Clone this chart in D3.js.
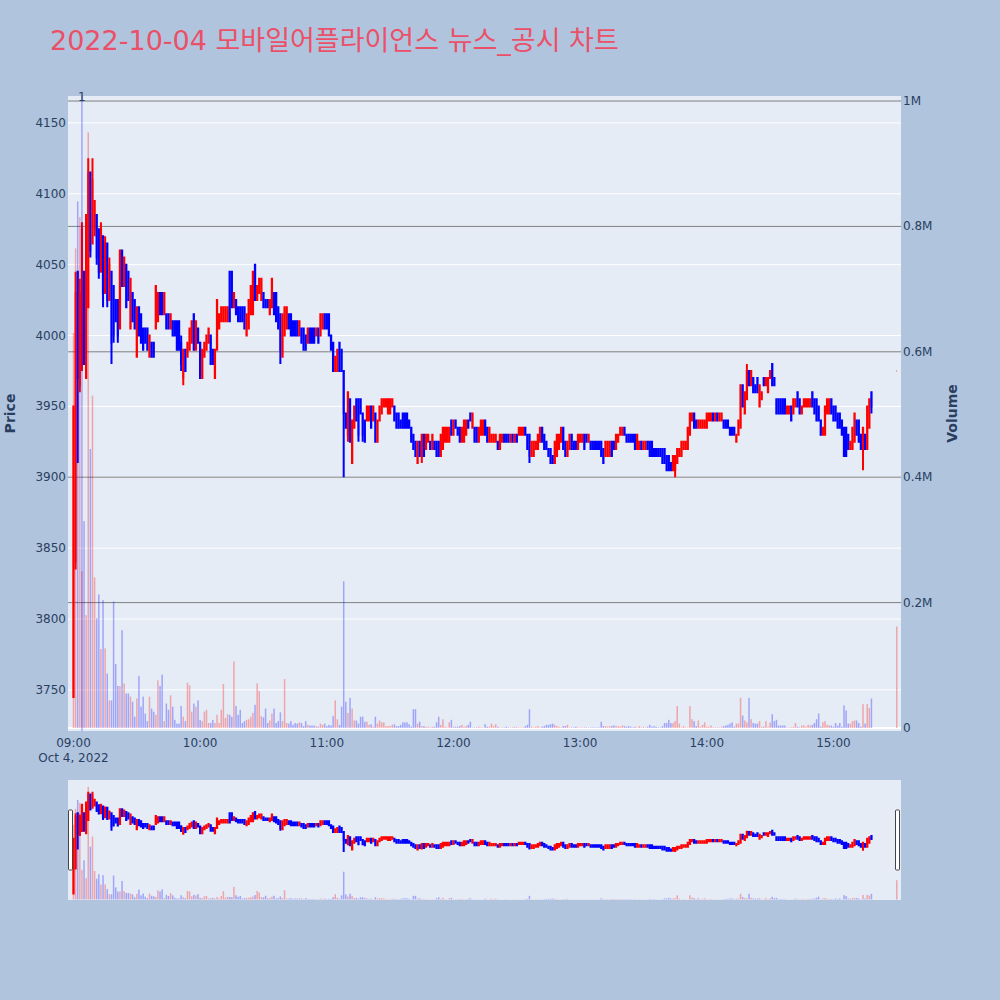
<!DOCTYPE html>
<html>
<head>
<meta charset="utf-8">
<script src="https://cdn.jsdelivr.net/npm/d3@7"></script>
<style>
  body { margin: 0; background: #B0C4DE; }
  svg { display: block; }
  text { font-family: "DejaVu Sans", Verdana, "Noto Sans CJK KR", sans-serif; }
</style>
</head>
<body>
<svg id="chart" width="1000" height="1000"></svg>
<script>
// 1-minute candles from 09:00, index = minutes after the open
const opens = [
  3745,3840,4045,3965,3980,4045,3970,4020,4115,4065, 4075,4085,4075,4045,4070,4030,4065,4025,4045,4035,
  4025,4025,4005,4060,4035,4050,4045,4005,4030,4025, 3985,4020,4015,4005,4005,4005,3985,3995,3995,4005,
  4010,4030,4030,4015,4015,4015,4005,4010,4010,4010, 4010,3995,3970,3990,3985,3990,3995,4015,3990,4005,
  3995,3970,3985,3990,3995,4000,3990,3970,3990,4005, 4010,4010,4010,4010,4045,4045,4020,4025,4020,4020,
  4020,4020,4000,4005,4015,4015,4050,4025,4030,4025, 4030,4025,4025,4015,4020,4030,4030,4020,4015,3985,
  4000,4005,4015,4015,4010,4010,4010,4000,4005,4005, 4000,3995,4005,4005,4005,4000,4005,4000,4005,4015,
  4015,4015,4000,3995,3975,3975,3995,3990,3975,3945, 3930,3955,3910,3935,3955,3955,3955,3945,3940,3940,
  3940,3950,3940,3945,3925,3940,3945,3950,3950,3945, 3945,3950,3950,3945,3945,3940,3945,3945,3945,3940,
  3935,3930,3925,3910,3925,3915,3930,3920,3925,3925, 3920,3925,3925,3925,3915,3920,3925,3925,3925,3940,
  3930,3940,3935,3935,3925,3925,3930,3940,3945,3935, 3935,3935,3925,3930,3930,3940,3935,3925,3925,3925,
  3925,3925,3920,3925,3930,3930,3930,3925,3930,3925, 3930,3930,3930,3930,3935,3930,3930,3915,3915,3920,
  3920,3925,3935,3930,3925,3920,3920,3915,3910,3915, 3920,3925,3935,3925,3915,3920,3930,3925,3925,3920,
  3925,3925,3930,3930,3925,3925,3925,3925,3925,3925, 3925,3920,3915,3915,3915,3925,3925,3920,3925,3930,
  3930,3935,3930,3930,3930,3930,3930,3920,3920,3925, 3920,3920,3925,3925,3925,3920,3920,3920,3920,3920,
  3920,3915,3915,3910,3905,3905,3910,3915,3915,3920, 3920,3920,3930,3940,3945,3940,3935,3935,3935,3935,
  3935,3940,3940,3945,3940,3945,3940,3940,3940,3940, 3940,3935,3935,3935,3925,3930,3935,3965,3945,3955,
  3975,3965,3970,3965,3970,3950,3955,3970,3965,3960, 3970,3980,3970,3955,3955,3955,3955,3955,3945,3945,
  3950,3945,3950,3960,3955,3945,3950,3950,3950,3950, 3960,3955,3955,3950,3940,3930,3930,3945,3945,3955,
  3950,3950,3945,3945,3940,3935,3935,3930,3920,3920, 3925,3940,3940,3930,3920,3930,3920,3935,3960,
  3975
];
const closes = [
  3950,4030,3970,4030,4075,3980,4085,4115,4060,4110, 4095,4055,4045,4075,4030,4065,4025,4050,3995,4000,
  4010,4000,4060,4035,4055,4020,4025,4040,4010,4005, 4020,4000,3995,3990,3995,3990,4000,3985,3985,4035,
  4030,4015,4015,4030,4005,4005,4015,4000,4000,3990, 3990,3980,3990,3975,3995,4005,4010,3990,4010,3995,
  3970,3990,3995,4000,4005,3980,3980,3990,4025,4015, 4020,4020,4020,4020,4010,4020,4030,4015,4010,4010,
  4010,4005,4015,4025,4035,4045,4025,4035,4040,4040, 4020,4020,4020,4025,4040,4015,4010,4005,3990,4015,
  4020,4020,4005,4000,4000,4000,4000,4010,3995,3990, 3990,4005,3995,3995,3995,4005,3995,4015,4015,4005,
  4005,4000,3990,3975,3985,3990,3975,3975,3945,3935, 3960,3925,3940,3950,3940,3930,3945,3930,3925,3950,
  3950,3935,3950,3925,3940,3950,3955,3955,3955,3955, 3955,3955,3940,3935,3935,3935,3935,3935,3935,3935,
  3925,3920,3915,3925,3915,3930,3915,3930,3930,3920, 3930,3920,3915,3915,3930,3935,3935,3935,3935,3930,
  3940,3935,3930,3925,3935,3940,3940,3935,3940,3945, 3925,3925,3935,3940,3940,3930,3925,3935,3930,3930,
  3930,3920,3930,3930,3925,3925,3925,3930,3925,3930, 3925,3935,3935,3935,3930,3920,3915,3925,3925,3925,
  3930,3935,3925,3920,3920,3915,3910,3910,3925,3930, 3930,3935,3920,3915,3925,3930,3920,3920,3920,3930,
  3930,3930,3920,3925,3930,3920,3920,3920,3920,3920, 3915,3910,3925,3925,3925,3915,3920,3930,3930,3935,
  3935,3930,3925,3925,3925,3925,3920,3930,3925,3920, 3925,3925,3920,3915,3915,3915,3915,3915,3915,3910,
  3910,3905,3905,3905,3915,3915,3920,3920,3925,3925, 3925,3935,3945,3945,3935,3935,3940,3940,3940,3940,
  3945,3945,3945,3940,3945,3940,3945,3945,3935,3935, 3935,3930,3930,3930,3930,3940,3965,3950,3960,3975,
  3965,3975,3960,3960,3960,3965,3960,3965,3970,3970, 3975,3965,3965,3945,3945,3945,3945,3945,3950,3950,
  3940,3955,3955,3950,3945,3950,3955,3955,3955,3955, 3950,3945,3940,3940,3930,3935,3950,3955,3955,3945,
  3940,3940,3935,3935,3930,3915,3915,3920,3925,3935, 3945,3930,3925,3920,3935,3920,3950,3955,3950,
  3975
];
// wicks that reach past the candle body: [minute index, price]
const wickHighs = [[1,4045],[3,4040],[4,4080],[7,4125],[9,4125],[13,4080],[15,4070],[17,4055],
  [51,4000],[319,3980]];
const wickLows = [[1,3835],[2,3910],[3,3960],[4,3975],[8,4055],[10,4070],[11,4050],[12,4040],
  [14,4020],[16,4020],[18,3980],[19,3995],[21,3995],[51,3975],[52,3965],[98,3980],[128,3900],
  [130,3925],[135,3925],[137,3925],[165,3910],[216,3910],[285,3900],[374,3905],[378,3945]];
// volume in thousands of shares
const volumesK = [
  630,765,840,815,250,330,180,950,445,530, 240,175,213,126,204,127,87,44,44,202,
  102,67,67,156,71,55,55,50,42,18, 47,83,34,50,23,11,50,31,26,21,
  76,67,85,11,39,29,52,34,13,7, 7,35,18,11,72,68,26,39,34,44,
  13,11,26,29,8,8,13,8,21,8, 29,70,16,22,21,18,106,35,21,29,
  8,11,13,14,18,24,37,71,59,19, 17,31,8,12,23,31,8,11,25,11,
  78,8,7,11,5,8,7,9,8,3, 11,5,4,4,4,3,2,7,5,7,
  3,5,4,19,44,14,5,34,234,42, 24,48,31,12,12,7,18,18,10,10,
  5,6,2,18,7,12,9,9,3,3, 3,5,6,3,3,5,9,9,9,6,
  2,30,30,7,10,3,3,2,2,1, 2,2,9,18,5,14,2,1,9,13,
  2,2,2,3,5,2,3,5,10,1, 1,1,2,1,1,6,2,2,7,3,
  6,2,1,1,1,2,1,1,1,2, 1,1,1,1,3,5,30,2,1,2,
  3,1,2,3,5,5,6,7,5,3, 2,1,3,3,5,1,1,1,2,1,
  1,1,1,1,1,1,1,1,1,1, 10,3,3,2,3,3,4,3,3,2,
  4,3,2,3,2,1,2,1,3,1, 2,1,2,5,2,3,2,1,1,3,
  8,8,13,8,8,11,35,7,1,3, 1,1,35,14,11,3,12,2,5,9,
  2,2,4,1,1,1,1,2,3,4, 5,7,9,2,7,7,48,20,12,9,
  48,14,8,7,7,11,2,2,11,2, 9,22,11,13,4,4,4,4,1,1,
  1,2,8,2,1,4,4,2,5,4, 5,8,14,23,2,9,11,5,4,4,
  2,8,4,8,2,36,28,7,7,11, 12,12,8,2,38,7,38,32,47,
  162
];
const lastContinuousMinute = 378;  // trading pauses after 15:18
const closingAuctionMinute = 390;  // 15:30 single-price close
const newsMinutes = [4];
const newsLabels = ["1"];

const priceTicks = [3750, 3800, 3850, 3900, 3950, 4000, 4050, 4100, 4150];
const volumeTicks = [0, 200000, 400000, 600000, 800000, 1000000];
const volumeTickLabels = ["0", "0.2M", "0.4M", "0.6M", "0.8M", "1M"];
const timeTicks = ["09:00", "10:00", "11:00", "12:00", "13:00", "14:00", "15:00"];

const title = "2022-10-04 모바일어플라이언스 뉴스_공시 차트";

const day = new Date(2022, 9, 4, 9, 0, 0);
const at = m => new Date(day.getTime() + m * 60000);

const hi = new Map(wickHighs), lo = new Map(wickLows);
const candles = opens.map((o, i) => {
  const c = closes[i];
  const minute = i <= lastContinuousMinute ? i : closingAuctionMinute;
  return {
    t: at(minute), o, c,
    h: hi.has(i) ? hi.get(i) : Math.max(o, c),
    l: lo.has(i) ? lo.get(i) : Math.min(o, c),
    v: volumesK[i] * 1000
  };
});
candles.forEach((d, i) => {
  const prev = i > 0 ? candles[i - 1].c : d.o;
  d.up = d.c > d.o || (d.c === d.o && d.c > prev);
});

const svg = d3.select("#chart");
const L = 68, R = 901, T = 96, B = 731;
const sT = 780, sB = 900;

const x = d3.scaleTime()
  .domain([new Date(2022, 9, 4, 8, 57, 24), new Date(2022, 9, 4, 15, 32, 0)])
  .range([L, R]);
const y = d3.scaleLinear().domain([3721, 4169]).range([B, T]);
const y2 = d3.scaleLinear().domain([-4800, 1008000]).range([B, T]);
const ys = d3.scaleLinear().domain(y.domain()).range([sB, sT]);
const ys2 = d3.scaleLinear().domain(y2.domain()).range([sB, sT]);

const upColor = "#ff0000", downColor = "#0000ff";
const fg = "#2a3f5f";

svg.append("text")
  .attr("x", 50).attr("y", 50)
  .attr("font-size", 27)
  .attr("fill", "#eb5068")
  .text(title);

// main plot background and grids
svg.append("rect").attr("x", L).attr("y", T).attr("width", R - L).attr("height", B - T)
  .attr("fill", "#E5ECF6");

svg.append("defs").append("clipPath").attr("id", "clipMain")
  .append("rect").attr("x", L).attr("y", T).attr("width", R - L).attr("height", B - T);
svg.select("defs").append("clipPath").attr("id", "clipSlider")
  .append("rect").attr("x", L).attr("y", sT).attr("width", R - L).attr("height", sB - sT);

const grid = svg.append("g");
priceTicks.forEach(p => {
  grid.append("line").attr("x1", L).attr("x2", R).attr("y1", y(p)).attr("y2", y(p))
    .attr("stroke", "#fff").attr("stroke-width", 1);
});
volumeTicks.filter(v => v > 0).forEach(v => {
  grid.append("line").attr("x1", L).attr("x2", R).attr("y1", y2(v)).attr("y2", y2(v))
    .attr("stroke", "#808080").attr("stroke-width", 1);
});
grid.append("line").attr("x1", L).attr("x2", R).attr("y1", y2(0)).attr("y2", y2(0))
  .attr("stroke", "#fff").attr("stroke-width", 2);

function drawCandles(g, yy) {
  const bw = 0.3;
  g.selectAll("path.candle").data(candles).join("path")
    .attr("class", "candle")
    .attr("d", d => {
      const xc = x(d.t), x0 = xc - bw / 2, x1 = xc + bw / 2;
      const top = yy(Math.max(d.o, d.c)), bot = yy(Math.min(d.o, d.c));
      return `M${x0},${top}H${x1}V${bot}H${x0}Z` +
        `M${xc},${yy(d.h)}V${top}M${xc},${bot}V${yy(d.l)}`;
    })
    .attr("fill", d => d.up ? upColor : downColor)
    .attr("stroke", d => d.up ? upColor : downColor)
    .attr("stroke-width", 2);
}

function drawVolume(g, yy) {
  const w = 1.5;
  g.selectAll("rect.vol").data(candles).join("rect")
    .attr("class", "vol")
    .attr("x", d => x(d.t) - w / 2)
    .attr("width", w)
    .attr("y", d => yy(d.v))
    .attr("height", d => yy(0) - yy(d.v))
    .attr("fill", d => d.up ? upColor : downColor)
    .attr("fill-opacity", 0.3);
}

const main = svg.append("g").attr("clip-path", "url(#clipMain)");
drawCandles(main.append("g"), y);
drawVolume(main.append("g"), y2);

// news markers
newsMinutes.forEach((m, i) => {
  main.append("line")
    .attr("x1", x(at(m))).attr("x2", x(at(m)))
    .attr("y1", T).attr("y2", B)
    .attr("stroke", "rgba(0,0,255,0.3)").attr("stroke-width", 1.5);
  svg.append("text")
    .attr("x", x(at(m))).attr("y", T + 5)
    .attr("text-anchor", "middle")
    .attr("font-size", 12).attr("fill", fg)
    .text(newsLabels[i]);
});

// axes labels
priceTicks.forEach(p => {
  svg.append("text").attr("x", L - 2).attr("y", y(p) + 4)
    .attr("text-anchor", "end").attr("font-size", 12).attr("fill", fg)
    .text(p);
});
volumeTicks.forEach((v, i) => {
  svg.append("text").attr("x", R + 2).attr("y", y2(v) + 4)
    .attr("text-anchor", "start").attr("font-size", 12).attr("fill", fg)
    .text(volumeTickLabels[i]);
});
const parseHM = d3.timeParse("%H:%M");
timeTicks.forEach(s => {
  const t = parseHM(s);
  const d = new Date(2022, 9, 4, t.getHours(), t.getMinutes());
  svg.append("text").attr("x", x(d)).attr("y", B + 16)
    .attr("text-anchor", "middle").attr("font-size", 12).attr("fill", fg)
    .text(s);
});
svg.append("text").attr("x", x(day)).attr("y", B + 31)
  .attr("text-anchor", "middle").attr("font-size", 12).attr("fill", fg)
  .text(d3.timeFormat("%b %-d, %Y")(day));

svg.append("text")
  .attr("transform", `translate(15,${(T + B) / 2}) rotate(-90)`)
  .attr("text-anchor", "middle").attr("font-size", 14).attr("font-weight", "bold")
  .attr("fill", fg).text("Price");
svg.append("text")
  .attr("transform", `translate(957,${(T + B) / 2}) rotate(-90)`)
  .attr("text-anchor", "middle").attr("font-size", 14).attr("font-weight", "bold")
  .attr("fill", fg).text("Volume");

// range slider
svg.append("rect").attr("x", L).attr("y", sT).attr("width", R - L).attr("height", sB - sT)
  .attr("fill", "#E5ECF6");
const slider = svg.append("g").attr("clip-path", "url(#clipSlider)");
drawCandles(slider.append("g"), ys);
drawVolume(slider.append("g"), ys2);
[L + 3, R - 3].forEach(hx => {
  svg.append("rect")
    .attr("x", hx - 2.5).attr("y", sT + (sB - sT) / 4)
    .attr("width", 4).attr("height", (sB - sT) / 2)
    .attr("rx", 1)
    .attr("fill", "#fff").attr("stroke", "#444").attr("stroke-width", 1);
});
</script>
</body>
</html>
